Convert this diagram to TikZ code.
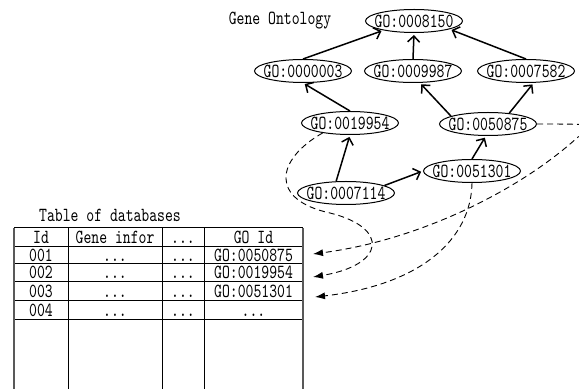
\documentclass[tikz,border=0pt]{standalone}
\usepackage{fontspec}
\newfontfamily\gofont{lmmono10-regular.otf}[FakeStretch=0.75]
\usetikzlibrary{shapes.geometric,arrows.meta}
\tikzset{
  goterm/.style={draw,ellipse,line width=0.5pt,minimum width=48.5pt,minimum height=11.5pt,inner sep=0pt},
  cell/.style={inner sep=0pt,text height=6pt,text depth=0pt},
  isa/.style={line width=0.75pt,shorten >=1pt,-{Straight Barb[length=3pt,width=6pt]}},
  dblink/.style={dash pattern=on 3pt off 2pt,line width=0.45pt,-{Latex[length=5pt,width=3.5pt]}}
}
\newcommand{\goid}[1]{\makebox[30pt]{#1}}
\newcommand{\dd}{.\kern0pt.\kern0pt.}

\begin{document}
\begin{tikzpicture}[x=0.5pt,y=-0.5pt,font=\gofont\fontsize{10}{12}\selectfont]
  \useasboundingbox (0,0) rectangle (579,389);
  \clip (0,0) rectangle (579,389);
  % gene ontology
  \node (gotitle) at (280,21) {Gene Ontology};
  \node[goterm] (go8150) at (414,21) {\goid{GO:0008150}};
  \node[goterm] (go0003) at (303,71) {\goid{GO:0000003}};
  \node[goterm] (go9987) at (413,71) {\goid{GO:0009987}};
  \node[goterm] (go7582) at (526,71) {\goid{GO:0007582}};
  \node[goterm] (go9954) at (350,123) {\goid{GO:0019954}};
  \node[goterm] (go0875) at (488,124) {\goid{GO:0050875}};
  \node[goterm] (go1301) at (472,171) {\goid{GO:0051301}};
  \node[goterm] (go7114) at (346,193) {\goid{GO:0007114}};
    \draw[isa] (go0003.north) -- (go8150.197);
    \draw[isa] (go9987.north) -- (go8150.south);
    \draw[isa] (go7582.north) -- (go8150.-13);
    \draw[isa] (go9954.north) -- (go0003.south);
    \draw[isa] (go0875.168) -- (go9987.-60);
    \draw[isa] (go0875.27) -- (go7582.-57);
    \draw[isa] (go7114.130) -- (go9954.south);
    \draw[isa] (go7114.11) -- (go1301.west);
    \draw[isa] (go1301.north) -- (go0875.-100);
  % table of databases
  \node (tabtitle) at (110,215) {Table of databases};
  \foreach \y in {228,247,264,282,301,320} \draw[line width=0.5pt] (14,\y) -- (303,\y);
  \foreach \x in {68,162,204} \draw[line width=0.5pt] (\x,228) -- (\x,389);
  \draw[black!65,line width=0.8pt] (14,228) -- (14,389) (303,228) -- (303,389);
  \node[cell] (hid) at (41,237.5) {Id};
  \node[cell] (hinfo) at (115,237.5) {Gene infor};
  \node[cell] (hetc) at (183,237.5) {\dd};
  \node[cell] (hgo) at (253.5,237.5) {GO Id};
  \node[cell] (id1) at (41,255.5) {001};
  \node[cell] (info1) at (115,255.5) {\dd};
  \node[cell] (etc1) at (183,255.5) {\dd};
  \node[cell] (go1) at (253.5,255.5) {GO:0050875};
  \node[cell] (id2) at (41,273) {002};
  \node[cell] (info2) at (115,273) {\dd};
  \node[cell] (etc2) at (183,273) {\dd};
  \node[cell] (go2) at (253.5,273) {GO:0019954};
  \node[cell] (id3) at (41,291.5) {003};
  \node[cell] (info3) at (115,291.5) {\dd};
  \node[cell] (etc3) at (183,291.5) {\dd};
  \node[cell] (go3) at (253.5,291.5) {GO:0051301};
  \node[cell] (id4) at (41,310.5) {004};
  \node[cell] (info4) at (115,310.5) {\dd};
  \node[cell] (etc4) at (183,310.5) {\dd};
  \node[cell] (go4) at (253.5,310.5) {\dd};
  % links from terms to rows
  \coordinate (tip1) at (313,254);
  \coordinate (tip2) at (313,277);
  \coordinate (tip3) at (315,297);
    \draw[dblink] (go0875.east) .. controls (610,124) and (610,125) .. (578,137)
      .. controls (520,190) and (420,240) .. (tip1);
    \draw[dblink] (go9954.200) .. controls (275,160) and (270,200) .. (330,213)
      .. controls (390,228) and (385,265) .. (tip2);
    \draw[dblink] (go1301.south) .. controls (471,240) and (420,285) .. (tip3);
\end{tikzpicture}
\end{document}
